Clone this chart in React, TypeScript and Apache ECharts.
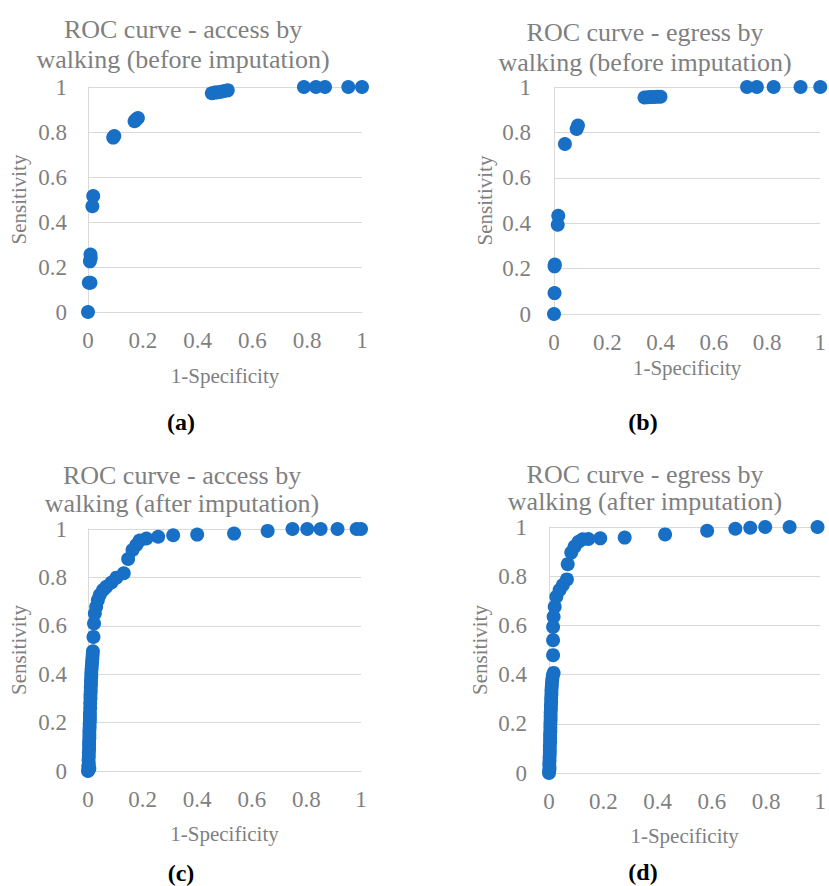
import React, { useEffect, useRef } from 'react';
import * as echarts from 'echarts';

// Panel (a): access by walking, before imputation
const aFpr = [0, 0.003, 0.009, 0.007, 0.01, 0.009, 0.016, 0.019, 0.092, 0.096, 0.17, 0.176, 0.182, 0.452, 0.463, 0.474, 0.486, 0.498, 0.51, 0.788, 0.832, 0.865, 0.95, 1];
const aTpr = [0, 0.13, 0.13, 0.225, 0.24, 0.255, 0.47, 0.515, 0.775, 0.782, 0.848, 0.855, 0.862, 0.972, 0.975, 0.977, 0.979, 0.982, 0.985, 1, 1, 1, 1, 1];

// Panel (b): egress by walking, before imputation
const bFpr = [0, 0.002, 0.002, 0.003, 0.014, 0.016, 0.041, 0.085, 0.09, 0.34, 0.352, 0.364, 0.376, 0.388, 0.4, 0.725, 0.762, 0.825, 0.926, 1];
const bTpr = [0, 0.092, 0.21, 0.218, 0.393, 0.433, 0.749, 0.815, 0.83, 0.954, 0.955, 0.956, 0.956, 0.957, 0.957, 1, 1, 1, 1, 1];

// Panel (c): access by walking, after imputation
const cFpr = [0, 0.002, 0.005, 0.001, 0.003, 0.002, 0.003, 0.003, 0.004, 0.004, 0.004, 0.005, 0.005, 0.005, 0.006, 0.006, 0.007, 0.007, 0.007, 0.008, 0.008, 0.009, 0.009, 0.01, 0.01, 0.011, 0.011, 0.012, 0.012, 0.013, 0.014, 0.015, 0.016, 0.017, 0.018,
  0.02, 0.022, 0.025, 0.03, 0.036, 0.043, 0.055, 0.067, 0.086, 0.104, 0.131, 0.147, 0.163, 0.177, 0.189, 0.214, 0.257, 0.312, 0.4, 0.535, 0.658, 0.749, 0.803, 0.852, 0.914, 0.984, 1];
const cTpr = [0, 0.005, 0.01, 0.02, 0.03, 0.045, 0.06, 0.075, 0.09, 0.105, 0.12, 0.135, 0.15, 0.165, 0.18, 0.195, 0.21, 0.225, 0.24, 0.26, 0.28, 0.3, 0.315, 0.33, 0.345, 0.36, 0.375, 0.39, 0.405, 0.42, 0.435, 0.45, 0.465, 0.48, 0.495,
  0.554, 0.61, 0.651, 0.679, 0.706, 0.727, 0.748, 0.761, 0.779, 0.799, 0.817, 0.876, 0.913, 0.934, 0.952, 0.961, 0.968, 0.974, 0.977, 0.981, 0.992, 1, 1, 1, 1, 1, 1];

// Panel (d): egress by walking, after imputation
const dFpr = [0, 0.001, 0.002, 0.001, 0.002, 0.002, 0.003, 0.003, 0.003, 0.004, 0.004, 0.004, 0.005, 0.005, 0.005, 0.006, 0.006, 0.006, 0.007, 0.007, 0.008, 0.008, 0.009, 0.009, 0.01, 0.011, 0.012, 0.014, 0.017,
  0.015, 0.015, 0.015, 0.017, 0.021, 0.027, 0.039, 0.051, 0.066, 0.069, 0.082, 0.094, 0.109, 0.124, 0.145, 0.189, 0.279, 0.428, 0.583, 0.687, 0.742, 0.797, 0.887, 0.99];
const dTpr = [0, 0.01, 0.02, 0.035, 0.05, 0.065, 0.08, 0.095, 0.11, 0.125, 0.14, 0.155, 0.17, 0.185, 0.2, 0.215, 0.23, 0.245, 0.26, 0.275, 0.29, 0.305, 0.32, 0.335, 0.35, 0.365, 0.38, 0.395, 0.407,
  0.479, 0.54, 0.594, 0.635, 0.676, 0.716, 0.744, 0.764, 0.787, 0.849, 0.896, 0.92, 0.94, 0.95, 0.951, 0.954, 0.957, 0.97, 0.985, 0.993, 0.997, 1, 1, 1];

const titleLines = [
  ['ROC curve - access by', 'walking (before imputation)'],
  ['ROC curve - egress by', 'walking (before imputation)'],
  ['ROC curve - access by', 'walking (after imputation)'],
  ['ROC curve - egress by', 'walking (after imputation)'],
];
const captions = ['(a)', '(b)', '(c)', '(d)'];
const xName = '1-Specificity';
const yName = 'Sensitivity';

const FONT = 'Liberation Serif';
const GRAY = '#7f7f7f';
const GRID_COLOR = '#d9d9d9';
const DOT = '#1870c6';

// layout per panel
const panels = [
  { grid: { left: 88, top: 87, width: 274, height: 225 }, titleX: 183, titleY: [29, 59], capX: 181, capY: 422, xGap: 53, yGap: 59, xMargin: 17, yMargin: 21 },
  { grid: { left: 554, top: 87, width: 272, height: 227 }, titleX: 645, titleY: [32, 62], capX: 643, capY: 422, xGap: 43, yGap: 59, xMargin: 17, yMargin: 23 },
  { grid: { left: 88, top: 529, width: 273, height: 242 }, titleX: 182, titleY: [475, 503], capX: 181, capY: 873, xGap: 52, yGap: 59, xMargin: 17, yMargin: 21 },
  { grid: { left: 549, top: 527, width: 275, height: 246 }, titleX: 645, titleY: [474, 501], capX: 643, capY: 872, xGap: 52, yGap: 59, xMargin: 17, yMargin: 22 },
];

const seriesData = [
  [aFpr, aTpr],
  [bFpr, bTpr],
  [cFpr, cTpr],
  [dFpr, dTpr],
];

export default function App() {
  const ref = useRef<HTMLDivElement>(null);
  useEffect(() => {
    if (!ref.current) return;
    const chart = echarts.init(ref.current, undefined, { renderer: 'svg' });
    const graphics: any[] = [];
    panels.forEach((p, i) => {
      titleLines[i].forEach((t, j) => {
        graphics.push({
          type: 'text',
          x: p.titleX,
          y: p.titleY[j],
          style: { text: t, fill: GRAY, fontFamily: FONT, fontSize: 26, lineHeight: 22, align: 'center', verticalAlign: 'middle' },
        });
      });
      graphics.push({
        type: 'text',
        x: p.capX,
        y: p.capY,
        style: { text: captions[i], fill: '#000', fontFamily: FONT, fontSize: 24, fontWeight: 'bold', align: 'center', verticalAlign: 'middle' },
      });
    });
    chart.setOption({
      animation: false,
      textStyle: { fontFamily: FONT },
      grid: panels.map((p) => ({ ...p.grid, containLabel: false })),
      xAxis: panels.map((p, i) => ({
        type: 'value',
        gridIndex: i,
        min: 0,
        max: 1,
        interval: 0.2,
        name: xName,
        nameLocation: 'middle',
        nameGap: p.xGap,
        nameTextStyle: { fontFamily: FONT, fontSize: 21, color: GRAY },
        axisLine: { show: true, lineStyle: { color: GRID_COLOR, width: 1 } },
        axisTick: { show: false },
        splitLine: { show: false },
        axisLabel: { fontFamily: FONT, fontSize: 23, color: GRAY, margin: p.xMargin },
      })),
      yAxis: panels.map((p, i) => ({
        type: 'value',
        gridIndex: i,
        min: 0,
        max: 1,
        interval: 0.2,
        name: yName,
        nameLocation: 'middle',
        nameGap: p.yGap,
        nameTextStyle: { fontFamily: FONT, fontSize: 21, color: GRAY },
        axisLine: { show: true, lineStyle: { color: GRID_COLOR, width: 1 } },
        axisTick: { show: false },
        splitLine: { show: true, lineStyle: { color: GRID_COLOR, width: 1 } },
        axisLabel: { fontFamily: FONT, fontSize: 23, color: GRAY, margin: p.yMargin },
      })),
      series: seriesData.map(([xs, ys], i) => ({
        type: 'scatter',
        xAxisIndex: i,
        yAxisIndex: i,
        symbol: 'circle',
        symbolSize: 14,
        clip: false,
        itemStyle: { color: DOT, opacity: 1 },
        data: xs.map((x, k) => [x, ys[k]]),
      })),
      graphic: graphics,
    });
    return () => chart.dispose();
  }, []);
  return (
    <div
      ref={ref}
      style={{ position: 'fixed', left: 0, top: 0, width: 829, height: 886, overflow: 'hidden', background: '#fff' }}
    />
  );
}
